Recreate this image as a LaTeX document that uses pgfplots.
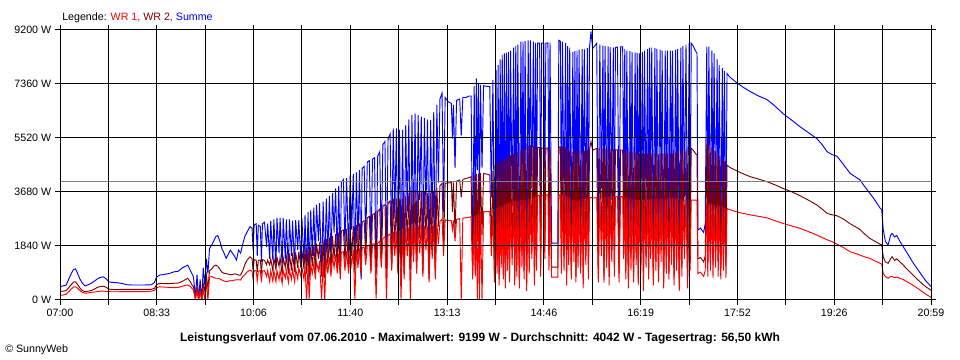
\documentclass[border=0pt]{standalone}
\usepackage{pgfplots}
\pgfplotsset{compat=1.18}
\usepackage{pgfplotstable}
\usepackage{fontspec}
\setmainfont{Liberation Sans}
\definecolor{wrone}{RGB}{255,0,0}
\definecolor{wrtwo}{RGB}{128,0,0}
\definecolor{summe}{RGB}{0,0,255}
\definecolor{avg}{RGB}{128,128,128}
\pgfplotstableread{
t r d s
0 160 290 450
3 170 300 480
6 200 320 510
9 300 450 760
11 380 530 910
13 440 610 1040
15 450 620 1060
17 400 520 900
19 330 420 730
21 270 330 600
24 230 285 480
27 240 300 520
30 260 320 570
33 270 370 640
36 285 430 720
39 300 460 770
42 300 470 790
45 290 420 700
47 285 370 620
50 280 360 600
55 280 350 590
60 285 365 560
65 285 365 520
70 285 365 510
80 285 365 510
88 300 365 520
91 330 400 600
93 420 520 780
96 450 570 850
100 440 560 870
105 430 560 900
110 420 570 960
114 430 580 980
118 470 640 1100
121 500 700 1150
123 510 740 1190
125 480 650 1050
127 400 520 900
128.5 340 455 795
130.5 0 100 110
132 330 450 860
133.5 0 0 0
135 300 400 700
136.5 0 0 0
138 350 560 1100
139.5 0 300 500
141 600 850 1400
142.5 0 400 900
144 780 1000 1750
146 800 1050 1870
148 760 1150 2000
150 740 1190 2160
152 740 1150 2200
154 720 1050 2000
156 680 950 1750
158 650 910 1600
160 625 900 1420
162 640 880 1550
164 660 860 1700
166 650 870 1600
168 680 890 1500
170 690 880 1360
172 690 850 1700
174 680 850 1600
176 800 1000 1900
178 850 1200 2160
180 950 1350 2300
183 1020 1475 2500
185 980 1400 2450
186 700 1000 1700
187 990 1380 2550
189 1000 1350 2600
190 650 950 1500
191 980 1350 2550
193 1000 1360 2500
194 600 900 1300
195 990 1380 2600
197 1000 1350 2650
199 800 1200 1800
200 1000 1350 2600
202 620 1190 1400
203 1000 1400 2700
205 640 1000 1350
206 1000 1420 2750
208 625 1050 1100
209 1000 1450 2800
211 700 1150 1600
212 1000 1450 2800
214 560 850 1100
215 1000 1450 2800
217 750 1100 1400
218 1010 1500 2750
220 600 900 1000
221 1020 1590 2750
223 700 1000 1500
224 1040 1600 2700
226 620 950 1100
227 1060 1620 2720
229 720 1100 1700
230 1100 1650 2725
232 800 1100 1300
233 1120 1680 2800
235 700 1050 1200
236 1150 1720 2900
237.5 0 900 900
239 1180 1780 3000
240 0 700 800
241.5 1200 1800 3050
243 900 1150 1500
244.5 1250 1850 3150
246 700 1000 1200
247 1305 1930 3250
249 1000 1400 2000
250 1330 1960 3300
252 0 800 900
253.5 1360 2000 3350
255 0 750 1000
256.5 1420 2080 3450
258 900 1200 1600
259.5 1460 2130 3550
261 800 1000 1300
262.5 1500 2180 3650
264 1100 1400 2300
265.5 1550 2250 3800
267 900 1100 1500
268.5 1580 2300 3900
270 700 900 1100
271 1620 2350 4000
273 1645 2385 4100
274.5 1000 1300 1800
276 1660 2420 4150
278 900 1100 1600
279.5 1690 2480 4250
281 1200 1500 2400
282.5 1700 2520 4300
284 0 900 1200
285.5 1720 2560 4350
287 1100 1400 2000
288.5 1760 2610 4430
290 900 800 700
291 1780 2650 4480
293 1800 2700 4550
294.5 1200 1500 2000
296 1850 2800 4700
298 1870 2850 4750
299.5 900 1000 1500
301 1900 2900 4800
303 1920 2950 4850
304.5 0 900 900
306 1930 3010 4900
308 2000 3100 5050
309.5 1100 1300 1800
311 2100 3200 5300
313 2150 3250 5400
314.5 0 1000 1300
316 2200 3300 5500
318 2250 3380 5650
319.5 1000 1100 1700
321 2330 3465 5850
322.5 1500 1900 2800
324 2340 3460 5850
325.5 900 1000 1300
327 2350 3450 5800
328.5 0 900 1200
330 2400 3450 5800
331.5 700 900 1100
333 2450 3550 5950
334.5 1500 2000 3000
336 2500 3650 6150
337.5 0 1000 1100
339 2560 3730 6300
340.5 1300 1500 2200
342 2580 3750 6350
343.5 900 1000 1500
345 2570 3720 6300
346.5 1600 2100 3400
348 2550 3700 6250
349.5 800 900 1000
351 2530 3680 6200
352.5 1700 2200 3100
354 2510 3650 6150
355.5 600 700 900
357 2500 3640 6130
358.5 1400 1700 2600
360 2560 3720 6400
361.5 700 900 1200
363 2620 3830 6650
364.5 1900 2500 4000
366 2680 3900 6850
368 2750 3975 7050
369.5 1500 1900 3000
371 2730 3980 6900
374 2710 3990 6750
377 2700 4000 6700
378 2400 3000 5500
379 2710 4010 6650
380.5 2000 2300 4500
382 2740 4050 6800
385 2780 4090 6850
386.5 0 3500 5600
388 2790 4110 6900
391 2800 4140 6900
394 2820 4170 6950
396 2840 4200 6950
397.5 700 900 1250
399 2870 4250 7300
400 800 1000 1500
401 2900 4300 7550
402 0 2000 4430
403 2950 4310 7400
404 0 1500 3000
405 3010 4320 7330
406.5 0 2200 4500
408 3010 4310 7300
411 3010 4290 7280
414 3010 4260 7270
415.5 1500 1900 3500
417 3050 4400 7500
418.5 600 800 1600
420 3120 4660 7850
421 900 1200 2200
422 3150 4700 8000
423 500 700 1500
424 3190 4740 8200
425 1100 1500 3000
426 3230 4780 8350
427 700 900 1800
428 3260 4820 8400
429 400 600 1400
430 3280 4860 8420
431 1000 1400 2600
432 3320 4900 8450
433 600 800 1700
434 3350 4940 8500
435.5 1200 1700 3200
437 3360 4980 8600
438 500 700 1500
439 3370 5000 8650
440 800 1200 2300
441 3380 5050 8700
442.5 400 650 1400
444 3400 5100 8800
445 1100 1500 2900
446 3410 5150 8800
447 700 1000 2000
448 3420 5200 8820
449.5 300 600 1500
451 3440 5250 8850
452 900 1300 2500
453 3450 5280 8850
454.5 1400 1900 3800
456 3480 5250 8800
457 500 800 1800
458 3520 5220 8760
459 1000 1400 2800
460 3550 5200 8750
462 3560 5190 8750
463 800 1200 2600
464 3570 5180 8750
466 3580 5170 8750
467 1400 2000 4000
468 3580 5170 8750
470 3580 5180 8760
471 1000 1500 3000
472 3580 5190 8780
473.5 780 1120 1940
479.5 780 1120 1940
480.5 3580 5210 8850
482 3580 5220 8820
483 900 1300 2500
484 3580 5225 8800
485.5 1000 1500 3000
487 3560 5200 8750
488 500 900 1800
489 3530 5150 8650
490 1200 1700 3500
491 3500 5120 8600
492.5 700 1000 2200
494 3400 5050 8450
495 1300 1800 3600
496 3410 5060 8480
497 600 800 1700
498 3420 5070 8500
499 1100 1500 2900
500 3430 5080 8520
501.5 900 1300 2400
503 3450 5100 8550
504 400 700 1500
505 3455 5100 8560
506.5 1200 1600 3100
508 3460 5105 8580
509 700 1000 2000
510 3460 5110 8600
511.5 3500 5400 9150
513 3465 5110 8575
515 3480 5140 8650
517 3490 5160 8750
518.5 600 900 1800
520 3495 5165 8700
521.5 1500 2100 3800
523 3500 5170 8670
524 580 780 1700
525 3505 5160 8650
526.5 1100 1500 3000
528 3510 5150 8640
529 500 800 1600
530 3515 5140 8620
531.5 1300 1700 3400
533 3515 5130 8600
534 800 1100 2300
535 3518 5120 8600
537 3520 5115 8620
538.5 600 900 2000
540 3520 5112 8630
542 3520 5110 8630
543 1400 1900 3500
544 3500 5100 8550
545 700 1000 2100
546 3480 5080 8500
547.5 400 700 1500
549 3460 5060 8480
550 1000 1400 2600
551 3450 5050 8450
552.5 600 800 1800
554 3430 5030 8430
555 1200 1600 3200
556 3420 5020 8420
557 500 700 1600
558 3400 5000 8400
559.5 900 1300 2500
561 3410 5000 8450
562 300 600 1400
563 3420 5000 8500
564.5 1100 1500 3000
566 3430 5000 8550
567 700 900 2000
568 3440 5000 8600
569 1400 1800 3600
570 3450 5000 8600
571.5 500 800 1700
573 3450 5000 8580
574 1000 1300 2800
575 3450 5000 8560
576.5 600 900 1900
578 3450 5000 8530
579 1300 1700 3300
580 3450 5000 8500
581.5 400 700 1500
583 3455 5000 8500
584 900 1200 2400
585 3460 5000 8500
586.5 700 900 2000
588 3465 5000 8500
589 1200 1600 3100
590 3470 5000 8500
591.5 500 800 1600
593 3460 5020 8520
594 1000 1400 2700
595 3450 5040 8550
596.5 300 600 1400
598 3440 5070 8600
599 800 1100 2200
600 3420 5100 8650
601.5 1400 1800 3500
603 3410 5130 8700
604.5 400 800 1700
606 3400 5160 8750
607 1000 1400 2600
608 3400 5170 8750
610 3400 5100 8650
612 3400 5000 8500
613.6 3400 4940 8400
614.5 900 1400 2385
617 950 1450 2450
620 800 1300 2300
621.5 1000 1500 2600
623 3300 5300 8630
624 800 1250 2200
625 3300 5450 8630
626.5 1000 1500 2600
628 3280 5200 8500
629 750 1200 2100
630 3260 5100 8400
631.5 1100 1700 3000
633 3230 5000 8200
634 800 1300 2300
635 3200 4900 8000
636.5 700 1200 2000
638 3180 4800 7900
639 1000 1500 2700
640 3150 4700 7800
641.5 750 1250 2100
642.5 3120 4600 7720
645 3080 4520 7600
652 3000 4400 7400
658 2950 4300 7250
665 2900 4200 7100
673 2850 4120 6950
681 2800 4030 6830
689 2700 3920 6600
696.5 2610 3800 6350
704 2530 3700 6150
713 2440 3550 5900
721 2330 3400 5700
729 2215 3240 5500
734 2130 3100 5300
739 2050 2950 5050
744 1980 2900 4950
748.5 1900 2870 4900
755 1780 2750 4600
761 1645 2600 4320
766 1590 2500 4200
770.6 1530 2400 4090
775 1470 2250 3870
780 1420 2100 3640
785 1330 2000 3400
790 1250 1900 3130
791.5 1220 1880 3080
793 900 1475 2400
795 800 1300 2000
797.7 740 1250 1870
800 800 1400 2200
801.5 800 1475 2270
804 760 1350 2150
806 780 1400 2200
809 740 1300 2000
812 700 1200 1830
816 620 1050 1600
821.7 500 850 1270
826 400 700 1050
830 300 570 850
834 200 450 650
839 90 330 460
}\data

\begin{document}
\fontsize{8}{9.6}\selectfont
\begin{tikzpicture}
\useasboundingbox (0pt,0pt) rectangle (720pt,270pt);
\begin{axis}[
  at={(45pt,45pt)}, anchor=south west, scale only axis,
  width=653.25pt, height=202.5pt,
  xmin=0, xmax=839, ymin=0, ymax=9200,
  xtick={0,93.22,186.44,279.67,372.89,466.11,559.33,652.56,745.78,839},
  xticklabels={07:00,08:33,10:06,11:40,13:13,14:46,16:19,17:52,19:26,20:59},
  minor xtick={46.61,139.83,233.06,326.28,419.5,512.72,605.94,699.17,792.39},
  ytick={0,1840,3680,5520,7360,9200},
  yticklabels={0 W,1840 W,3680 W,5520 W,7360 W,9200 W},
  xmajorgrids, xminorgrids, ymajorgrids,
  grid style={black, line width=0.75pt},
  minor grid style={black, line width=0.75pt},
  axis line style={black, line width=0.75pt},
  tick align=outside, major tick length=3.75pt, minor tick length=3.75pt,
  tick style={black, line width=0.75pt},
  xticklabel style={font=\fontsize{8}{9.6}\selectfont},
  yticklabel style={font=\fontsize{8}{9.6}\selectfont},
  axis on top,
  clip=true,
]
\addplot[summe, line width=0.7pt] table[x=t, y=s] {\data};
\addplot[wrtwo, line width=0.7pt] table[x=t, y=d] {\data};
\addplot[wrone, line width=0.7pt] table[x=t, y=r] {\data};
\addplot[avg, line width=0.75pt] coordinates {(0,4042) (839,4042)};
\end{axis}
\node[anchor=base west, inner sep=0pt] at (46.5pt,254.5pt) {Legende: \textcolor{wrone}{WR 1,} \textcolor{wrtwo}{WR 2,} \textcolor{summe}{Summe}};
\node[anchor=base, inner sep=0pt, font=\fontsize{9}{10.8}\selectfont\bfseries] at (360pt,14pt) {Leistungsverlauf vom 07.06.2010 - Maximalwert: 9199 W - Durchschnitt: 4042 W - Tagesertrag: 56,50 kWh};
\node[anchor=base west, inner sep=0pt] at (3.75pt,5.5pt) {\textcopyright\ SunnyWeb};
\end{tikzpicture}
\end{document}
